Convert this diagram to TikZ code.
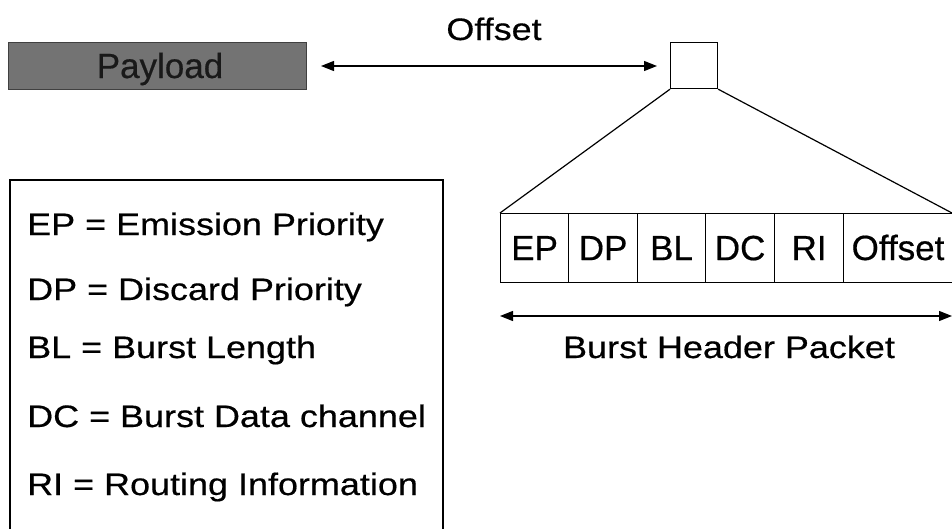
\documentclass[tikz,border=0pt]{standalone}
\usepackage{fontspec}
\setmainfont{Liberation Sans}
\newfontfamily\widefont{Liberation Sans}[FakeStretch=1.16,FakeBold=0.5]
\newfontfamily\cellfont{Liberation Sans}[FakeBold=0.5]
\usetikzlibrary{arrows.meta}
\tikzset{
  x=1pt, y=-1pt,
  thin line/.style={line width=1.2pt, draw=black},
  legendtxt/.style={anchor=base west, inner sep=0pt, font=\widefont\fontsize{31}{36}\selectfont},
  labeltxt/.style={inner sep=0pt, font=\widefont\fontsize{31}{36}\selectfont},
  cell/.style={draw=black, line width=1.2pt, minimum height=69pt, inner sep=0pt, font=\cellfont\fontsize{35}{40}\selectfont},
  dblarrow/.style={line width=1.3pt, {Triangle[length=13pt,width=10pt]}-{Triangle[length=13pt,width=10pt]}},
}
\begin{document}
\begin{tikzpicture}
\useasboundingbox (0,0) rectangle (952,528);
% payload
\node[fill=black!55, draw=black!75, line width=1pt, minimum width=298pt, minimum height=47pt, inner sep=0pt,
      anchor=north west] (pay) at (8,42) {};
\node[font=\cellfont\fontsize{35}{40}\selectfont, text=black!90, anchor=base, inner sep=0pt] (paytxt) at (160,78) {Payload};
% small square
\node[thin line, draw, minimum width=47pt, minimum height=46pt, inner sep=0pt, anchor=north west] (sq) at (670,42) {};
% offset arrow
\draw[dblarrow, shorten <=14pt, shorten >=13pt] (pay.east) -- (pay.east -| sq.west);
\node[labeltxt, anchor=base] (offl) at (494,40) {Offset};
% header cells
\node[cell, minimum width=68pt, anchor=north west] (ep) at (500,213) {EP};
\node[cell, minimum width=69pt, anchor=north west] (dp) at (568,213) {DP};
\node[cell, minimum width=68pt, anchor=north west] (bl) at (637,213) {BL};
\node[cell, minimum width=69pt, anchor=north west] (dc) at (705,213) {DC};
\node[cell, minimum width=69pt, anchor=north west] (ri) at (774,213) {RI};
\node[cell, minimum width=112pt, anchor=north west] (off) at (843,213) {};
\node[font=\cellfont\fontsize{35}{40}\selectfont, inner sep=0pt] (offtxt) at (898,247.5) {Offset};
% triangle
\coordinate (tr) at (952,213);
\draw[thin line] (sq.south west) -- (ep.north west);
\draw[thin line] (sq.south east) -- (tr);
% burst header packet arrow
\coordinate (bl1) at (500,316);
\coordinate (br1) at (952,316);
\draw[dblarrow] (bl1) -- (br1);
\node[labeltxt, anchor=base] (bhp) at (729,358) {Burst Header Packet};
% legend
\draw[thin line] (10,540) -- (10,180) -- (443,180) -- (443,540);
\node[legendtxt] (l1) at (27,235) {EP = Emission Priority};
\node[legendtxt] (l2) at (27,300) {DP = Discard Priority};
\node[legendtxt] (l3) at (27,358) {BL = Burst Length};
\node[legendtxt] (l4) at (27,427) {DC = Burst Data channel};
\node[legendtxt] (l5) at (27,495) {RI = Routing Information};
\end{tikzpicture}
\end{document}
